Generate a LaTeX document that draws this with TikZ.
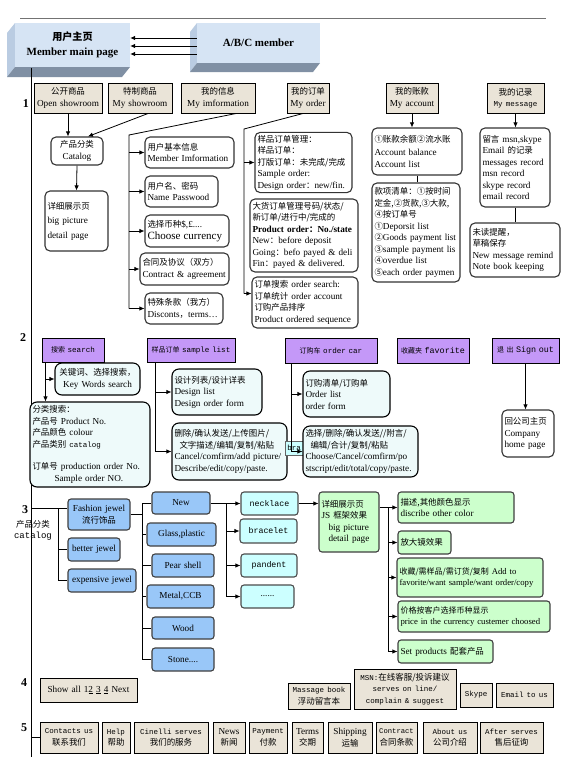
\documentclass[tikz,border=0pt]{standalone}
\usepackage{fontspec}
\setmainfont{Liberation Serif}
\setmonofont{Liberation Mono}
\newfontfamily\cjk{Noto Sans CJK SC}[Scale=0.92]
\newcommand{\zh}[1]{{\cjk #1}}
\newcommand{\mono}[2][7.5]{{\ttfamily\fontsize{#1}{11.5}\selectfont #2}}
\usetikzlibrary{arrows.meta,calc}

\definecolor{tanbg}{RGB}{234,228,216}
\definecolor{lilac}{RGB}{196,152,248}
\definecolor{jewelblue}{RGB}{153,199,248}
\definecolor{paleCyan}{RGB}{204,255,255}
\definecolor{paleGreen}{RGB}{204,255,204}
\definecolor{hatchCyan}{RGB}{238,250,250}
\definecolor{frontBlue}{RGB}{214,228,244}
\definecolor{sideBlue}{RGB}{186,204,226}
\definecolor{shadeBlue}{RGB}{128,144,164}

\begin{document}
\begin{tikzpicture}[
    x=1pt, y=-1pt,
    font=\fontsize{9.2}{11.5}\selectfont,
    arr/.style={-{Latex[length=5pt,width=4.5pt]}, line width=0.8pt},
    link/.style={line width=0.8pt},
    sz/.code 2 args={\pgfmathsetmacro\bxw{#1-5}\edef\bxtmp{\noexpand\tikzset{text width=\bxw pt, minimum height=#2pt}}\bxtmp},
    box/.style={draw, inner sep=2.5pt, align=left},
    front/.style={fill=frontBlue, inner sep=0pt, align=center, font=\fontsize{11}{15}\selectfont\bfseries},
    tbox/.style={box, fill=tanbg, line width=1pt, align=center},
    wbox/.style={box, fill=white, draw=black!80, rounded corners=5pt, line width=1.1pt},
    sbox/.style={box, fill=hatchCyan, rounded corners=7pt, line width=1.1pt},
    pbox/.style={box, fill=lilac, line width=1pt, align=center, font=\fontsize{7.6}{9}\selectfont},
    jbox/.style={box, fill=jewelblue, draw=black!75, rounded corners=3pt, line width=1.1pt, align=center},
    cbox/.style={box, fill=paleCyan, draw=black!70, rounded corners=3pt, line width=1.1pt, align=center},
    gbox/.style={box, fill=paleGreen, draw=black!75, rounded corners=3pt, line width=1.1pt},
    num/.style={font=\fontsize{12}{12}\selectfont\bfseries, inner sep=0pt}
]

% =========================================================
% 0) PAGE, HEADER RULE, 3-D TITLE BOXES
% =========================================================
\fill[white] (0,0) rectangle (567,761);
\useasboundingbox (0,0) rectangle (567,761);
\draw[black!55, line width=0.8pt] (20,18) -- (546,18);

\fill[sideBlue] (7,33) -- (15,23) -- (15,67) -- (7,77) -- cycle;
\fill[shadeBlue] (7,77) -- (15,67) -- (130,67) -- (122,77) -- cycle;
\node[front, minimum width=115pt, minimum height=44pt] (mainpg) at (72.5,45) {\zh{用户主页}\\Member main page};

\fill[sideBlue] (190,32) -- (197,23) -- (197,63) -- (190,72) -- cycle;
\fill[shadeBlue] (190,72) -- (197,63) -- (320,63) -- (313,72) -- cycle;
\node[front, minimum width=123pt, minimum height=40pt] (abc) at (258.5,43) {A/B/C member};

\foreach \dy [count=\i] in {5,-3,-11}{
  \coordinate (abcOut\i) at ([yshift=\dy pt]abc.west);
  \draw[arr] (abcOut\i) -- (abcOut\i -| mainpg.east);
}

% left spine
\coordinate (spineTop) at (31,68);
\coordinate (spineBot) at (31,757);
\draw[link] (spineTop) -- (spineBot);

% =========================================================
% 1) MEMBER AREA
% =========================================================
\node[num] (n1) at (26,104) {1};

\node[tbox, sz={68}{30}] (open) at (68,98) {\zh{公开商品}\\Open showroom};
\node[tbox, sz={64}{30}] (mysr) at (140,98) {\zh{特制商品}\\My showroom};
\node[tbox, sz={74}{30}] (myinfo) at (218,98) {\zh{我的信息}\\My imformation};
\node[tbox, sz={42}{30}] (myorder) at (308,98) {\zh{我的订单}\\My order};
\node[tbox, sz={52}{30}] (myacct) at (412,98) {\zh{我的账款}\\My account};
\node[tbox, sz={57}{30}] (mymsg) at (515.5,98) {\zh{我的记录}\\\mono{My message}};

% showroom -> catalog -> detail
\node[wbox, sz={52}{28}, align=center] (catalog) at (77,151) {\zh{产品分类}\\Catalog};
\node[wbox, sz={63}{60}] (bigpic) at (76.5,221) {\zh{详细展示页}\\[3pt]big picture\\[3pt]detail page};
\draw[arr] (open.south) -- (open.south |- catalog.north);
\draw[arr] ($(mysr.south)+(8,0)$) -- ($(catalog.north)+(11,0)$);
\draw[arr] (catalog.south) -- (bigpic.north);

% my information
\node[wbox, sz={89}{31}] (mbinfo) at (189.5,152.5) {\zh{用户基本信息}\\Member Imformation};
\node[wbox, sz={73}{31}] (namepw) at (181.5,191.5) {\zh{用户名、密码}\\Name Passwood};
\node[wbox, sz={84}{32}] (currency) at (187,231) {\zh{选择币种}\$,£....\\{\fontsize{11}{12}\selectfont Choose currency}};
\node[wbox, sz={89}{32}] (contract) at (184.5,269) {\zh{合同及协议（双方）}\\Contract \& agreement};
\node[wbox, sz={78}{31}] (discount) at (184,308.5) {\zh{特殊条款（我方）}\\Disconts\zh{，}terms…};

\coordinate (infoTop) at (129,135);
\draw[link] ($(myinfo.south)+(18,0)$) -- (infoTop) -- (infoTop |- discount.west);
\foreach \b in {mbinfo,namepw,currency,contract,discount}
  \draw[arr] (infoTop |- \b.west) -- (\b.west);

% my order
\node[wbox, sz={97}{59}] (sampord) at (303.5,162.5)
{\zh{样品订单管理：}\\\zh{样品订单：}\\\zh{打版订单：未完成/完成}\\Sample order:\\Design order\zh{：}new/fin.};
\node[wbox, sz={108}{73}] (prodord) at (304,235.5)
{\zh{大货订单管理号码/状态/}\\\zh{新订单/进行中/完成的}\\\textbf{Product order\zh{：}No./state}\\New\zh{：}before deposit\\Going\zh{：}befo payed \& deli\\Fin\zh{：}payed \& delivered.};
\node[wbox, sz={106}{51}] (ordsearch) at (305,302.5)
{\zh{订单搜索} order search:\\\zh{订单统计} order account\\\zh{订购产品排序}\\Product ordered sequence};

\coordinate (orderTop) at (244,129);
\path ([yshift=9pt]ordsearch.west) coordinate (osIn);
\draw[link] ($(myorder.south)+(-5,0)$) -- (orderTop) -- (orderTop |- osIn);
\draw[arr] (orderTop |- sampord.west) -- (sampord.west);
\draw[arr] (orderTop |- osIn) -- (osIn);

% my account
\node[wbox, sz={90}{47}] (acct1) at (417,151.5) {\zh{①账款余额②流水账}\\[1pt]Account balance\\[1pt]Account list};
\node[wbox, sz={88}{99}] (acct2) at (416,232.5)
{\zh{款项清单：①按时间}\\\zh{定金,②货款,③大款,}\\\zh{④按订单号}\\\zh{①}Deporsit list\\\zh{②}Goods payment list\\\zh{③}sample payment lis\\\zh{④}overdue list\\\zh{⑤}each order paymen};
\draw[arr] (myacct.south) -- (myacct.south |- acct1.north);
\draw[link] (acct1.south) -- (acct1.south |- acct2.north);

% my message
\node[wbox, sz={70}{79}] (msg1) at (515,167.5)
{\zh{留言} msn,skype\\Email \zh{的记录}\\messages record\\msn record\\skype record\\email record};
\node[wbox, sz={90}{54}] (msg2) at (515,250)
{\zh{未读提醒，}\\\zh{草稿保存}\\New message remind\\Note book keeping};
\draw[arr] (mymsg.south) -- (mymsg.south |- msg1.north);
\draw[link] (msg1.south) -- (msg1.south |- msg2.north);

% =========================================================
% 2) SEARCH / ORDER BAR
% =========================================================
\node[num] (n2) at (23,338) {2};

\node[pbox, sz={62}{24}] (search) at (73,350) {\zh{搜索} \mono[7.6]{search}};
\node[pbox, sz={88}{24}] (samplist) at (191,350) {\zh{样品订单} \mono[7.6]{sample list}};
\node[pbox, sz={92}{25}] (ordercar) at (331,350.5) {\zh{订购车} \mono[7.6]{order car}};
\node[pbox, sz={72}{25}] (favorite) at (433,350.5) {\zh{收藏夹} \mono[8.4]{favorite}};
\node[pbox, sz={67}{25}] (signout) at (525.5,350.5) {\zh{退\ 出} \mono[8.4]{Sign out}};

% search
\node[sbox, sz={85}{32}, align=center] (keyword) at (97.5,379) {\zh{关键词、选择搜索，}\\Key Words search};
\node[sbox, sz={120}{85}] (catsearch) at (90,444.5)
{\zh{分类搜索：}\\\zh{产品号} Product No.\\\zh{产品颜色} colour\\\zh{产品类别} \mono{catalog}\\[11pt]\zh{订单号} production order No.\\\hspace*{22pt}Sample order NO.};
\coordinate (srchTop) at ($(search.south west)+(4,0)$);
\draw[arr] (srchTop) -- (srchTop |- catsearch.north);
\draw[arr] (srchTop |- keyword.west) -- (keyword.west);

% sample list
\node[sbox, sz={90}{46}] (designlist) at (217,392) {\zh{设计列表/设计详表}\\Design list\\Design order form};
\node[sbox, sz={115}{57}] (cancelbx) at (229.5,451.5)
{\zh{删除/确认发送/上传图片/}\\\hspace*{5pt}\zh{文字描述/编辑/复制/粘贴}\\Cancel/comfirm/add picture/\\Describe/edit/copy/paste.};
\coordinate (slTop) at ($(samplist.south west)+(9,0)$);
\draw[link] (slTop) -- (slTop |- cancelbx.west);
\foreach \b in {designlist,cancelbx}
  \draw[arr] (slTop |- \b.west) -- (\b.west);

% order car
\node[fill=paleCyan, draw=black!60, inner sep=0pt, minimum width=18pt, minimum height=14pt] (brapeek) at (294,448) {\mono{bra}};
\node[sbox, sz={87}{46}] (orderlist) at (346.5,394) {\zh{订购清单/订购单}\\Order list\\order form};
\node[sbox, sz={115}{51}] (choosebx) at (360.5,451.5)
{\zh{选择/删除/确认发送//附言/}\\\hspace*{5pt}\zh{编辑/合计/复制/粘贴}\\Choose/Cancel/comfirm/po\\stscript/edit/total/copy/paste.};
\coordinate (ocTop) at ($(ordercar.south west)+(7,0)$);
\draw[link] (ocTop) -- (ocTop |- choosebx.west);
\foreach \b in {orderlist,choosebx}
  \draw[arr] (ocTop |- \b.west) -- (\b.west);

% sign out
\node[wbox, sz={52}{47}] (company) at (528,433.5) {\zh{回公司主页}\\Company\\home page};
\draw[arr] (signout.south) -- (signout.south |- company.north);

% =========================================================
% 3) PRODUCT CATALOG
% =========================================================
\node[num] (n3) at (25,510) {3};
\node (catzh) at (33,524) {\zh{产品分类}};
\node (catmn) at (33,536) {\mono[9]{catalog}};

\node[jbox, sz={62}{31}] (fashion) at (99,514.5) {Fashion jewel\\\zh{流行饰品}};
\node[jbox, sz={52}{23}] (better) at (94,549.5) {better jewel};
\node[jbox, sz={68}{23}] (expens) at (102,580.5) {expensive jewel};

\coordinate (s3) at (31,508);
\coordinate (jTop) at (58,508);
\draw[link] (s3) -- (s3 -| fashion.west);
\draw[link] (jTop) -- (jTop |- expens.west);
\foreach \b in {better,expens}
  \draw[link] (jTop |- \b.west) -- (\b.west);

% materials
\node[jbox, sz={58}{22}] (newbx) at (181,503) {New};
\node[jbox, sz={69}{23}] (glass) at (181.5,534.5) {Glass,plastic};
\node[jbox, sz={62}{23}] (pear) at (183,565.5) {Pear shell};
\node[jbox, sz={67}{23}] (metal) at (180.5,596.5) {Metal,CCB};
\node[jbox, sz={62}{22}] (wood) at (183,628) {Wood};
\node[jbox, sz={62}{23}] (stone) at (183,659.5) {Stone....};

\coordinate (mX) at (142,0);
\draw[link] (fashion.east) -- (fashion.east -| mX);
\draw[link] (mX |- newbx.west) -- (mX |- stone.west);
\foreach \b in {newbx,glass,pear,metal,wood,stone}
  \draw[link] (mX |- \b.west) -- (\b.west);

% jewel types
\node[cbox, sz={57}{23}] (necklace) at (269.5,503.5) {\mono[8.3]{necklace}};
\node[cbox, sz={57}{24}] (bracelet) at (268.5,531) {\mono[8.3]{bracelet}};
\node[cbox, sz={56}{23}] (pandent) at (269,565.5) {\mono[8.3]{pandent}};
\node[cbox, sz={53}{23}] (dots) at (267.5,596.5) {......};

\coordinate (tX) at (226,0);
\draw[link] (newbx.east) -- (newbx.east -| tX);
\draw[link] (tX |- necklace.west) -- (tX |- dots.west);
\foreach \b in {necklace,bracelet,pandent,dots}
  \draw[arr] (tX |- \b.west) -- (\b.west);

% detail page and features
\node[gbox, sz={60}{60}] (detail) at (349,522)
{\zh{详细展示页}\\JS \zh{框架效果}\\\hspace*{7pt}big picture\\\hspace*{7pt}detail page};
\draw[arr] (necklace.east) -- (necklace.east -| detail.west);

\node[gbox, sz={116}{31}] (describe) at (456,507.5) {\zh{描述,其他颜色显示}\\discribe other color};
\node[gbox, sz={53}{23}] (magnify) at (424.5,542.5) {\zh{放大镜效果}};
\node[gbox, sz={146}{39}, font=\fontsize{8.7}{11.5}\selectfont] (addto) at (470,577.5) {\zh{收藏/需样品/需订货/复制} Add to\\favorite/want sample/want order/copy};
\node[gbox, sz={152}{31}, font=\fontsize{8.7}{11.5}\selectfont] (price) at (474,616.5) {\zh{价格按客户选择币种显示}\\price in the currency custemer choosed};
\node[gbox, sz={95}{23}] (setprod) at (445.5,651.5) {Set products \zh{配套产品}};

\coordinate (fX) at (388,0);
\draw[link] (describe.west -| detail.east) -- (describe.west -| fX);
\draw[link] (fX |- describe.west) -- (fX |- setprod.west);
\foreach \b in {describe,magnify,addto,price,setprod}
  \draw[arr] (fX |- \b.west) -- (\b.west);

% =========================================================
% 4) PAGING AND ONLINE SERVICE
% =========================================================
\node[num] (n4) at (24,683) {4};

\node[tbox, sz={97}{24}] (showall) at (88.5,690) {Show all 1\underline{2} \underline{3} \underline{4} Next};
\node[tbox, sz={62}{26}] (massage) at (319,696) {\mono{Massage book}\\\zh{浮动留言本}};
\node[tbox, sz={102}{40}] (msn) at (405,689) {\mono{MSN:}\zh{在线客服/投诉建议}\\\mono{serves on line/}\\\mono{complain \& suggest}};
\node[tbox, sz={32}{24}] (skype) at (476,695) {\mono{Skype}};
\node[tbox, sz={57}{24}] (emailus) at (524.5,695) {\mono{Email to us}};

% =========================================================
% 5) FOOTER LINKS
% =========================================================
\node[num] (n5) at (24,728) {5};

\node[tbox, sz={58}{31}] (contacts) at (69,737.5) {\mono{Contacts us}\\\zh{联系我们}};
\node[tbox, sz={28}{31}] (help) at (116,737.5) {\mono{Help}\\\zh{帮助}};
\node[tbox, sz={74}{31}] (cinelli) at (171,737.5) {\mono{Cinelli serves}\\\zh{我们的服务}};
\node[tbox, sz={32}{31}] (news) at (229,737.5) {News\\\zh{新闻}};
\node[tbox, sz={38}{31}] (payment) at (268,737.5) {\mono{Payment}\\\zh{付款}};
\node[tbox, sz={31}{31}] (terms) at (307.5,737.5) {Terms\\\zh{交期}};
\node[tbox, sz={44}{31}] (shipping) at (350,737.5) {Shipping\\\zh{运输}};
\node[tbox, sz={41}{31}] (contractf) at (396.5,737.5) {\mono[7.2]{Contract}\\\zh{合同条款}};
\node[tbox, sz={54}{31}] (about) at (450,737.5) {\mono{About us}\\\zh{公司介绍}};
\node[tbox, sz={63}{31}] (after) at (511.5,737.5) {\mono{After serves}\\\zh{售后征询}};

\draw[link] (contacts.west -| spineTop) -- (contacts.west);

\end{tikzpicture}
\end{document}
